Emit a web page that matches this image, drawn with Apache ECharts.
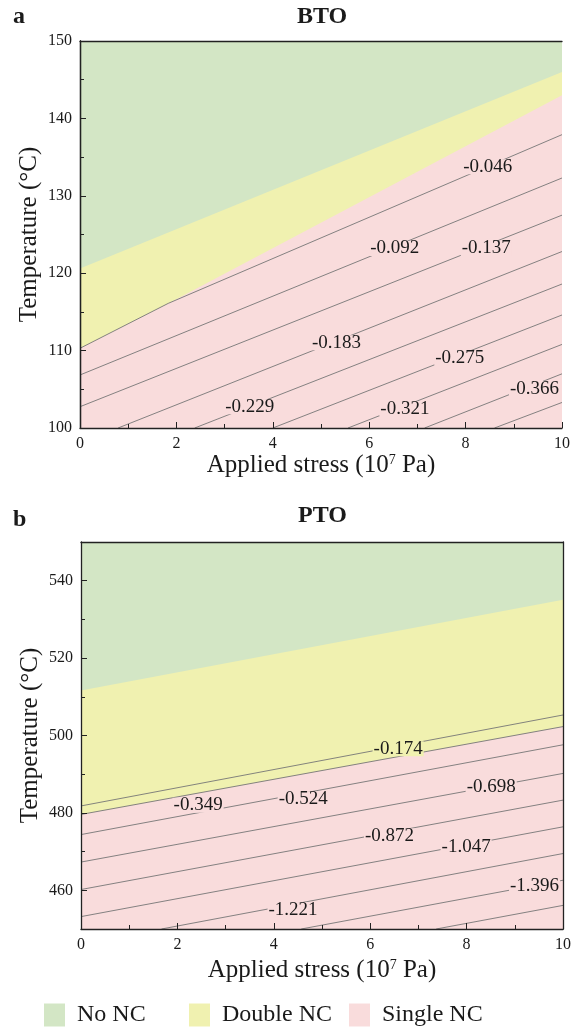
<!DOCTYPE html>
<html>
<head>
<meta charset="utf-8">
<script src="https://cdn.jsdelivr.net/npm/echarts@6/dist/echarts.min.js"></script>
<style>
  html, body { margin: 0; padding: 0; background: #fff; }
  #chart { width: 579px; height: 1032px; }
</style>
</head>
<body>
<div id="chart"></div>
<script>
var serif = "'Liberation Serif', 'Times New Roman', serif";
var green = "#d3e6c5";
var yellow = "#f0f1b0";
var pink = "#f9dcdc";
var ink = "#1a1a1a";
var lineGray = "#767676";

// tick labels
var stressTicks = [0, 2, 4, 6, 8, 10];
var btoTempTicks = [100, 110, 120, 130, 140, 150];
var ptoTempTicks = [460, 480, 500, 520, 540];
var ptoMinorTicks = [450, 470, 490, 510, 530, 550];

// BTO phase boundaries [stress, temperature]
var btoNoNc = [[0, 150], [10, 150]];
var btoDoubleNc = [[0, 120.6], [10, 146.0]];
var btoSingleNc = [[0, 110.3], [1.83, 116.1], [10, 143.0]];

// BTO contour lines
var btoContours = [
  [[0, 110.3], [1.83, 116.1], [10, 137.9]],
  [[0, 106.85], [10, 132.3]],
  [[0, 102.75], [10, 127.5]],
  [[0.79, 100], [10, 122.8]],
  [[2.38, 100], [10, 118.6]],
  [[4.0, 100], [10, 114.6]],
  [[5.56, 100], [10, 110.8]],
  [[7.15, 100], [10, 107.0]],
  [[8.6, 100], [10, 103.3]]
];
var btoLevels = ["-0.046", "-0.092", "-0.137", "-0.183", "-0.229", "-0.275", "-0.321", "-0.366"];
var btoLabelX = [8.46, 6.53, 8.43, 5.32, 3.52, 7.88, 6.74, 9.43];
var btoLabelT = [133.75, 123.2, 123.2, 111.0, 102.75, 109.0, 102.5, 105.1];

// PTO phase boundaries
var ptoNoNc = [[0, 550], [10, 550]];
var ptoDoubleNc = [[0, 511.6], [10, 535.1]];
var ptoSingleNc = [[0, 479.6], [10, 502.3]];

// PTO contour lines
var ptoContours = [
  [[0, 481.8], [10, 505.3]],
  [[0, 479.6], [10, 502.3]],
  [[0, 474.4], [10, 497.6]],
  [[0, 467.3], [10, 490.2]],
  [[0, 460.2], [10, 483.3]],
  [[0, 453.2], [10, 476.4]],
  [[1.67, 450], [10, 469.5]],
  [[4.57, 450], [10, 462.6]],
  [[7.37, 450], [10, 456.1]]
];
var ptoLevels = ["-0.174", "-0.349", "-0.524", "-0.698", "-0.872", "-1.047", "-1.221", "-1.396"];
var ptoLabelX = [6.58, 2.43, 4.61, 8.51, 6.4, 7.99, 4.40, 9.41];
var ptoLabelT = [496.6, 482.0, 483.6, 486.75, 474.0, 471.2, 455.0, 461.0];

function interp(pts, x) {
  for (var i = 1; i < pts.length; i++) {
    if (x <= pts[i][0]) {
      var a = pts[i - 1], b = pts[i];
      return a[1] + (b[1] - a[1]) * (x - a[0]) / (b[0] - a[0]);
    }
  }
  return pts[pts.length - 1][1];
}

var frame = { color: "#222", width: 1.3 };
var tickStyle = { color: "#222", width: 1 };
var boldTitle = { fontFamily: serif, fontWeight: "bold", fontSize: 24, color: ink };

var option = {
  animation: false,
  backgroundColor: "#fff",
  title: [
    { text: "a", left: 13, top: 5, padding: 0, textStyle: boldTitle },
    { text: "BTO", left: 297, top: 5, padding: 0, textStyle: boldTitle },
    { text: "b", left: 13, top: 508, padding: 0, textStyle: boldTitle },
    { text: "PTO", left: 298, top: 504, padding: 0, textStyle: boldTitle }
  ],
  grid: [
    { left: 80, top: 41, width: 482, height: 387 },
    { left: 81, top: 542, width: 482, height: 387 }
  ],
  legend: [],
  xAxis: [],
  yAxis: [],
  series: []
};

["No NC", "Double NC", "Single NC"].forEach(function (name, k) {
  option.legend.push({
    data: [{ name: name, itemStyle: { color: [green, yellow, pink][k] } }],
    left: [44, 189, 349][k],
    top: 1003,
    padding: 0,
    icon: "rect",
    itemWidth: 21,
    itemHeight: 23,
    selectedMode: false,
    textStyle: { fontFamily: serif, fontSize: 24, color: ink, padding: [0, 0, 0, 7] }
  });
});

function addPanel(g, p) {
  var xMain = option.xAxis.length;
  option.xAxis.push({
    gridIndex: g, type: "value", min: 0, max: 10, interval: 2, position: "bottom", z: 10,
    axisLine: { lineStyle: frame },
    axisTick: { inside: true, length: 6, lineStyle: tickStyle },
    minorTick: { show: true, splitNumber: 2, length: 4, lineStyle: tickStyle },
    axisLabel: { margin: 8, color: ink, fontFamily: serif, fontSize: 16 },
    splitLine: { show: false },
    name: "Applied stress (10{sup|7} Pa)",
    nameLocation: "middle",
    nameGap: p.xNameGap,
    nameTextStyle: {
      fontFamily: serif, fontSize: 25, color: ink,
      rich: { sup: { fontFamily: serif, fontSize: 14, color: ink, verticalAlign: "top", padding: [0, 0, 7, 0] } }
    }
  });
  option.xAxis.push({
    gridIndex: g, type: "value", min: 0, max: 10, position: "top", z: 10,
    axisLine: { lineStyle: frame }, axisTick: { show: false }, axisLabel: { show: false }, splitLine: { show: false }
  });
  var yMain = option.yAxis.length;
  var yAxis = {
    gridIndex: g, type: "value", min: p.yMin, max: p.yMax, interval: 10, position: "left", z: 10,
    axisLine: { lineStyle: frame },
    axisTick: { inside: true, length: 6, lineStyle: tickStyle },
    axisLabel: { margin: 8, color: ink, fontFamily: serif, fontSize: 16 },
    splitLine: { show: false },
    name: "Temperature (°C)",
    nameLocation: "middle",
    nameMoveOverlap: false,
    nameGap: 38,
    nameTextStyle: { fontFamily: serif, fontSize: 25, color: ink }
  };
  if (p.labelTicks) {
    yAxis.axisLabel.customValues = p.labelTicks;
    yAxis.axisLabel.formatter = function (v) { return v % 20 === 0 ? String(v) : ""; };
    yAxis.axisTick.customValues = p.labelTicks;
  } else {
    yAxis.minorTick = { show: true, splitNumber: 2, length: 4, lineStyle: tickStyle };
  }
  option.yAxis.push(yAxis);
  if (p.minorTicks) {
    option.yAxis.push({
      gridIndex: g, type: "value", min: p.yMin, max: p.yMax, position: "left", z: 10,
      axisLine: { show: false },
      axisTick: { inside: true, length: 4, lineStyle: tickStyle, customValues: p.minorTicks },
      axisLabel: { show: false }, splitLine: { show: false }
    });
  }
  option.yAxis.push({
    gridIndex: g, type: "value", min: p.yMin, max: p.yMax, position: "right", z: 10,
    axisLine: { lineStyle: frame }, axisTick: { show: false }, axisLabel: { show: false }, splitLine: { show: false }
  });

  [["No NC", p.noNc, green], ["Double NC", p.doubleNc, yellow], ["Single NC", p.singleNc, pink]].forEach(function (r) {
    option.series.push({
      name: r[0], type: "line", xAxisIndex: xMain, yAxisIndex: yMain,
      data: r[1], color: r[2], symbol: "none", silent: true,
      lineStyle: { width: 0 },
      areaStyle: { color: r[2], opacity: 1, origin: "start" }
    });
  });

  p.contours.forEach(function (c) {
    option.series.push({
      type: "line", xAxisIndex: xMain, yAxisIndex: yMain, data: c,
      symbol: "none", silent: true, clip: true,
      lineStyle: { color: lineGray, width: 0.9 }
    });
  });

  // contour level labels, placed through the axes' scales
  option.series.push({
    type: "custom", xAxisIndex: xMain, yAxisIndex: yMain, silent: true, z: 5,
    data: p.levels.map(function (name, k) { return [p.labelX[k], p.labelT[k]]; }),
    renderItem: function (params, api) {
      var x = api.value(0), t = api.value(1);
      var pt = api.coord([x, t]);
      var bg = t > interp(p.singleNc, x) ? yellow : pink;
      return {
        type: "text",
        x: pt[0], y: pt[1],
        style: {
          text: p.levels[params.dataIndex],
          font: "19px " + serif,
          fill: ink,
          align: "center",
          verticalAlign: "middle",
          lineHeight: 15,
          backgroundColor: bg,
          padding: [0, 1]
        }
      };
    }
  });
}

addPanel(0, {
  yMin: 100, yMax: 150, xNameGap: 22,
  noNc: btoNoNc, doubleNc: btoDoubleNc, singleNc: btoSingleNc,
  contours: btoContours, levels: btoLevels, labelX: btoLabelX, labelT: btoLabelT
});
addPanel(1, {
  yMin: 450, yMax: 550, xNameGap: 29,
  labelTicks: ptoTempTicks, minorTicks: ptoMinorTicks,
  noNc: ptoNoNc, doubleNc: ptoDoubleNc, singleNc: ptoSingleNc,
  contours: ptoContours, levels: ptoLevels, labelX: ptoLabelX, labelT: ptoLabelT
});

var myChart = echarts.init(document.getElementById("chart"));
myChart.setOption(option);
</script>
</body>
</html>
